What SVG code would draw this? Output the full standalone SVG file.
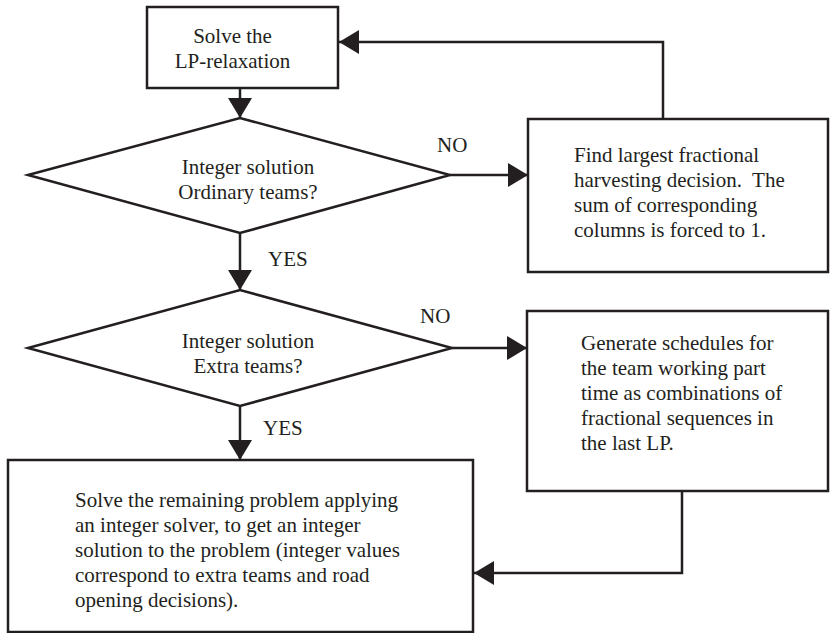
<svg xmlns="http://www.w3.org/2000/svg" width="830" height="633" viewBox="0 0 830 633">
<style>
.shape{fill:#fff;stroke:#231f20;stroke-width:2.5}
.line{fill:none;stroke:#231f20;stroke-width:2.5}
text{font-family:"Liberation Serif","Times New Roman",serif;font-size:21px;fill:#231f20}
.mid{text-anchor:middle}
</style>
<defs>
<marker id="arr" viewBox="0 0 20 24" refX="20" refY="12" markerWidth="20" markerHeight="24" markerUnits="userSpaceOnUse" orient="auto">
<path d="M0,0 L20,12 L0,24 z" fill="#231f20"/>
</marker>
</defs>
<rect width="830" height="633" fill="#fff"/>
<g id="connectors">
<line class="line" x1="240" y1="88" x2="240" y2="118" marker-end="url(#arr)"/>
<line class="line" x1="450" y1="175" x2="528" y2="175" marker-end="url(#arr)"/>
<polyline class="line" points="663,119 663,42 339,42" marker-end="url(#arr)"/>
<line class="line" x1="240" y1="233" x2="240" y2="290" marker-end="url(#arr)"/>
<line class="line" x1="452" y1="348" x2="527" y2="348" marker-end="url(#arr)"/>
<line class="line" x1="240" y1="406" x2="240" y2="460" marker-end="url(#arr)"/>
<polyline class="line" points="682,491 682,573 474,573" marker-end="url(#arr)"/>
<text x="437" y="152">NO</text>
<text x="268" y="266">YES</text>
<text x="420" y="323">NO</text>
<text x="263" y="435">YES</text>
</g>
<g id="start">
<rect class="shape" x="147" y="7" width="191" height="81"/>
<text class="mid" x="232.5" y="43">Solve the</text>
<text class="mid" x="232.5" y="68">LP-relaxation</text>
</g>
<g id="decision1">
<polygon class="shape" points="28,175 240,118 450,175 240,233"/>
<text class="mid" x="248" y="174">Integer solution</text>
<text class="mid" x="248" y="199">Ordinary teams?</text>
</g>
<g id="fractional">
<rect class="shape" x="528" y="119" width="300" height="153"/>
<text x="574" y="162">Find largest fractional</text>
<text x="574" y="187" xml:space="preserve">harvesting decision.  The</text>
<text x="574" y="212">sum of corresponding</text>
<text x="574" y="237">columns is forced to 1.</text>
</g>
<g id="decision2">
<polygon class="shape" points="28,348 240,290 452,348 240,406"/>
<text class="mid" x="248" y="348">Integer solution</text>
<text class="mid" x="248" y="373">Extra teams?</text>
</g>
<g id="schedules">
<rect class="shape" x="527" y="311" width="301" height="180"/>
<text x="581" y="350">Generate schedules for</text>
<text x="581" y="375">the team working part</text>
<text x="581" y="400">time as combinations of</text>
<text x="581" y="425">fractional sequences in</text>
<text x="581" y="450">the last LP.</text>
</g>
<g id="solve">
<rect class="shape" x="8" y="460" width="465" height="172"/>
<text x="75" y="507">Solve the remaining problem applying</text>
<text x="75" y="532">an integer solver, to get an integer</text>
<text x="75" y="557">solution to the problem (integer values</text>
<text x="75" y="582">correspond to extra teams and road</text>
<text x="75" y="607">opening decisions).</text>
</g>
</svg>
